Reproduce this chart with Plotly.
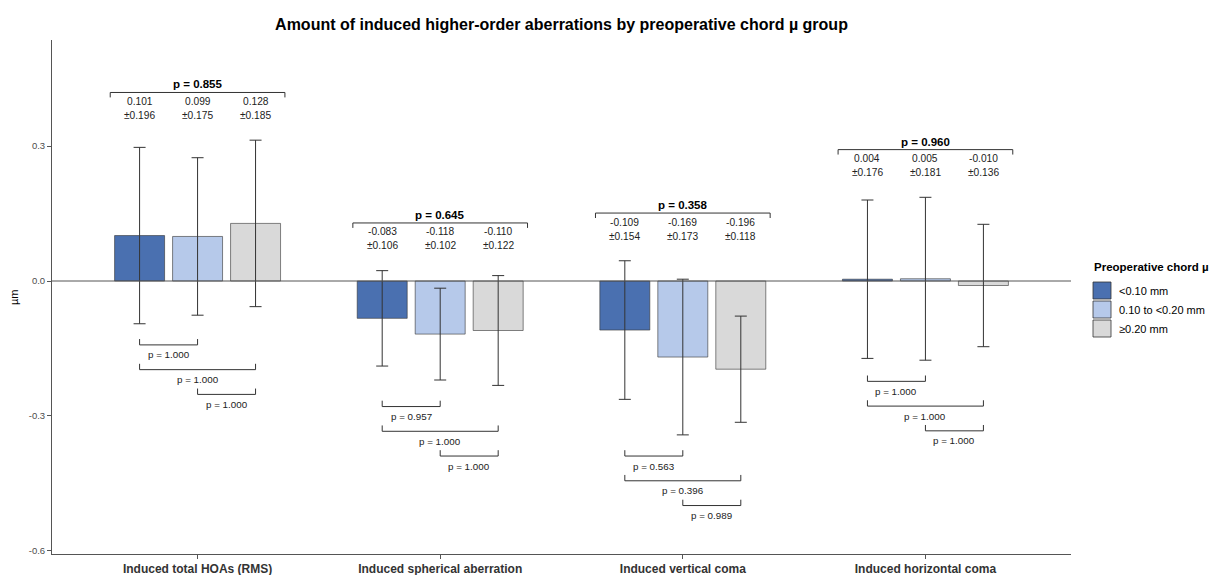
import plotly.graph_objects as go

# Outcome categories and chord-mu groups
categories = ["Induced total HOAs (RMS)", "Induced spherical aberration",
              "Induced vertical coma", "Induced horizontal coma"]
group_names = ["<0.10 mm", "0.10 to <0.20 mm", "≥0.20 mm"]
group_colors = ["#4a70b0", "#b6c9ea", "#d9d9d9"]

# Mean and SD of induced aberrations (µm) per group
mean_lt010 = [0.101, -0.083, -0.109, 0.004]
mean_010_020 = [0.099, -0.118, -0.169, 0.005]
mean_ge020 = [0.128, -0.110, -0.196, -0.010]
sd_lt010 = [0.196, 0.106, 0.154, 0.176]
sd_010_020 = [0.175, 0.102, 0.173, 0.181]
sd_ge020 = [0.185, 0.122, 0.118, 0.136]

# Overall p-values and pairwise p-values (1 vs 2, 1 vs 3, 2 vs 3)
p_overall = [0.855, 0.645, 0.358, 0.960]
p_pair_12 = [1.000, 0.957, 0.563, 1.000]
p_pair_13 = [1.000, 1.000, 0.396, 1.000]
p_pair_23 = [1.000, 1.000, 0.989, 1.000]

means = [mean_lt010, mean_010_020, mean_ge020]
sds = [sd_lt010, sd_010_020, sd_ge020]

FONT = "Liberation Sans, Arial, sans-serif"
BARGAP = 0.283
GROUPGAP = 0.138
SLOT = (1 - BARGAP) / 3
DARK = "#333333"

fig = go.Figure()
xs = list(range(len(categories)))
for k in range(3):
    fig.add_trace(go.Bar(
        x=xs, y=means[k], name=group_names[k],
        marker=dict(color=group_colors[k], line=dict(color=DARK, width=0.6)),
        error_y=dict(type="data", array=sds[k], visible=True,
                     color=DARK, thickness=1, width=6),
        showlegend=False,
    ))

shapes = []
annotations = []

def line(x0, y0, x1, y1):
    shapes.append(dict(type="line", xref="x", yref="y", x0=x0, y0=y0, x1=x1, y1=y1,
                       line=dict(color=DARK, width=1)))

# zero reference line
shapes.append(dict(type="line", xref="paper", yref="y", x0=0, x1=1, y0=0, y1=0,
                   line=dict(color="#555555", width=1)))

TOP_GAP = 0.106
TICK_TOP = 0.011
HALF_SPAN = 0.36
BOT_GAP = 0.047
BOT_STEP = 0.055
TICK_BOT = 0.013

for i in xs:
    centers = [i + (k - 1) * SLOT for k in range(3)]
    tops = [means[k][i] + sds[k][i] for k in range(3)]
    bots = [means[k][i] - sds[k][i] for k in range(3)]

    # overall bracket above the group
    yb = max(tops) + TOP_GAP
    x0, x1 = i - HALF_SPAN, i + HALF_SPAN
    line(x0, yb, x1, yb)
    line(x0, yb, x0, yb - TICK_TOP)
    line(x1, yb, x1, yb - TICK_TOP)
    annotations.append(dict(x=i, y=yb, xref="x", yref="y", text=f"<b>p = {p_overall[i]:.3f}</b>",
                            showarrow=False, yanchor="bottom", yshift=0,
                            font=dict(size=11.5, color="#000000", family=FONT)))
    for k in range(3):
        annotations.append(dict(x=centers[k], y=yb, xref="x", yref="y",
                                text=f"{means[k][i]:.3f}", showarrow=False,
                                yanchor="middle", yshift=-9,
                                font=dict(size=10.2, color="#222222", family=FONT)))
        annotations.append(dict(x=centers[k], y=yb, xref="x", yref="y",
                                text=f"±{sds[k][i]:.3f}", showarrow=False,
                                yanchor="middle", yshift=-23,
                                font=dict(size=10.2, color="#222222", family=FONT)))

    # pairwise brackets below the group
    pairs = [(0, 1, p_pair_12[i]), (0, 2, p_pair_13[i]), (1, 2, p_pair_23[i])]
    y0 = min(bots) - BOT_GAP
    for j, (a, b, p) in enumerate(pairs):
        yy = y0 - j * BOT_STEP
        xa, xb = centers[a], centers[b]
        line(xa, yy, xb, yy)
        line(xa, yy, xa, yy + TICK_BOT)
        line(xb, yy, xb, yy + TICK_BOT)
        annotations.append(dict(x=(xa + xb) / 2, y=yy, xref="x", yref="y",
                                text=f"p = {p:.3f}", showarrow=False,
                                yanchor="middle", yshift=-10,
                                font=dict(size=9.8, color="#222222", family=FONT)))

# y-axis title
annotations.append(dict(x=-38 / 1019, y=0.5, xref="paper", yref="paper", text="µm",
                        textangle=-90, showarrow=False, xanchor="center", yanchor="middle",
                        font=dict(size=11, color="#000000", family=FONT)))

# legend drawn in paper coordinates
PW, PH, PL, PT = 1019, 514, 52, 40
def px_x(px):
    return (px - PL) / PW
def px_y(py):
    return 1 - (py - PT) / PH

annotations.append(dict(x=px_x(1092), y=px_y(267), xref="paper", yref="paper",
                        text="<b>Preoperative chord µ</b>", showarrow=False,
                        xanchor="left", yanchor="middle",
                        font=dict(size=11.5, color="#000000", family=FONT)))
for k in range(3):
    top = 282 + 19 * k
    shapes.append(dict(type="rect", xref="paper", yref="paper",
                       x0=px_x(1093), x1=px_x(1111), y0=px_y(top), y1=px_y(top + 17),
                       fillcolor=group_colors[k], line=dict(color=DARK, width=0.8)))
    annotations.append(dict(x=px_x(1117), y=px_y(top + 8.5), xref="paper", yref="paper",
                            text=group_names[k], showarrow=False, xanchor="left",
                            yanchor="middle",
                            font=dict(size=11, color="#000000", family=FONT)))

fig.update_layout(
    barmode="group", bargap=BARGAP, bargroupgap=GROUPGAP,
    width=1213, height=575,
    margin=dict(l=52, r=142, t=40, b=21),
    paper_bgcolor="white", plot_bgcolor="white",
    title=dict(text="<b>Amount of induced higher-order aberrations by preoperative chord µ group</b>",
               x=0.5, xref="paper", xanchor="center", y=1 - 24 / 575, yanchor="middle",
               font=dict(size=16, color="#000000", family=FONT)),
    xaxis=dict(range=[-0.6, 3.6], tickmode="array", tickvals=xs,
               ticktext=[f"<b>{c}</b>" for c in categories],
               showline=True, linecolor="#555555", linewidth=1,
               ticks="outside", ticklen=4, tickcolor="#555555",
               showgrid=False, zeroline=False, automargin=False,
               tickfont=dict(size=12, color="#333333", family=FONT)),
    yaxis=dict(range=[-0.6067, 0.5356], tickvals=[-0.6, -0.3, 0.0, 0.3],
               ticktext=["-0.6", "-0.3", "0.0", "0.3"],
               showline=True, linecolor="#555555", linewidth=1,
               ticks="outside", ticklen=4, tickcolor="#555555",
               showgrid=False, zeroline=False, automargin=False,
               tickfont=dict(size=9.5, color="#4d4d4d", family=FONT)),
    shapes=shapes, annotations=annotations,
    showlegend=False,
)

fig.write_html("out.html")
